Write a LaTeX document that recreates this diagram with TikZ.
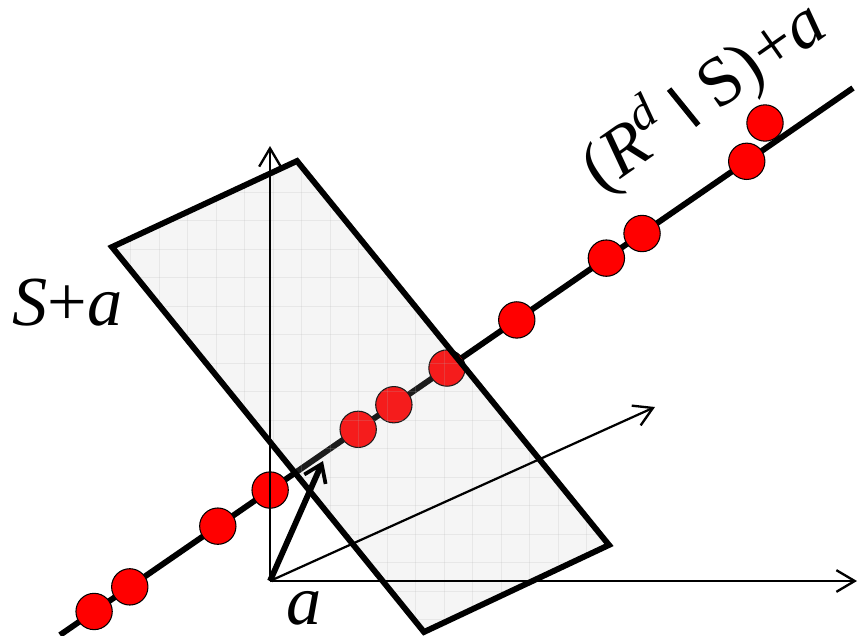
\documentclass[tikz,border=0pt]{standalone}
\usepackage{fontspec}
\setmainfont{Liberation Serif}
\usepackage{tikz}
\usetikzlibrary{arrows.meta, calc}
\definecolor{dotred}{HTML}{FF0000}
\definecolor{planegray}{HTML}{BCBCBC}

\begin{document}
\begin{tikzpicture}[
    x=0.03cm, y=-0.03cm,
    axis/.style={line width=1.9pt, -{Straight Barb[length=5.5mm, width=6.5mm, line width=2pt]}},
    vec/.style={line width=5pt, -{Straight Barb[length=5mm, width=7mm, line width=3.2pt]}},
    ray/.style={line width=5pt},
    pt/.style={circle, draw=black, line width=0.9pt, fill=dotred, minimum size=1.09cm, inner sep=0pt},
    plane/.style={draw=black, line width=5pt, line join=miter},
    gridline/.style={black!30, line width=0.5pt, opacity=0.2},
    lbl/.style={font=\fontsize{60}{60}\selectfont, inner sep=0pt}
]
\useasboundingbox (0,0) rectangle (858,635);

% Line with points
\coordinate (lstart) at (60,635);
\coordinate (lend) at (853,88);
\draw[ray] (lstart) -- (lend);
\foreach \t [count=\i] in {0.043,0.088,0.199,0.265,0.376,0.421,0.488,0.576,0.689,0.734,0.866}
    \node[pt] (p\i) at ($(lstart)!\t!(lend)$) {};
\node[pt] (ptop) at (765,123) {};

% Plane S+a
\coordinate (c1) at (112,247);
\coordinate (c2) at (297,161);
\coordinate (c3) at (609,545);
\coordinate (c4) at (424,632);
\fill[planegray, fill opacity=0.15] (c1) -- (c2) -- (c3) -- (c4) -- cycle;
\begin{scope}
    \clip (c1) -- (c2) -- (c3) -- (c4) -- cycle;
    \foreach \gx in {102,130.5,...,620} \draw[gridline] (\gx,130) -- (\gx,640);
    \foreach \gy in {135,163.5,...,640} \draw[gridline] (100,\gy) -- (620,\gy);
\end{scope}
\draw[plane] (c1) -- (c2) -- (c3) -- (c4) -- cycle;

% Axes
\coordinate (o) at (270,581);
\coordinate (ytip) at (270,146);
\coordinate (xtip) at (857,581);
\coordinate (ztip) at (655,407);
\draw[axis] (o) -- (ytip);
\draw[axis] (o) -- (xtip);
\draw[axis] (o) -- (ztip);
\coordinate (atip) at (323,461);
\draw[vec] (o) -- (atip);

% Labels
\node[lbl, anchor=base west] (splane) at (12,325) {\textit{S}+\textit{a}};
\node[lbl, anchor=base] (aorig) at (304,624) {\textit{a}};
\node[lbl, anchor=base, rotate=35] (comp) at (716,113)
    {(\textit{R}\raisebox{0.38em}{\fontsize{42}{42}\selectfont\textit{d}}\hspace{0.3em}\rotatebox{4}{\rule{0.08em}{0.66em}}\hspace{0.3em}S)+\textit{a}};
\end{tikzpicture}
\end{document}
